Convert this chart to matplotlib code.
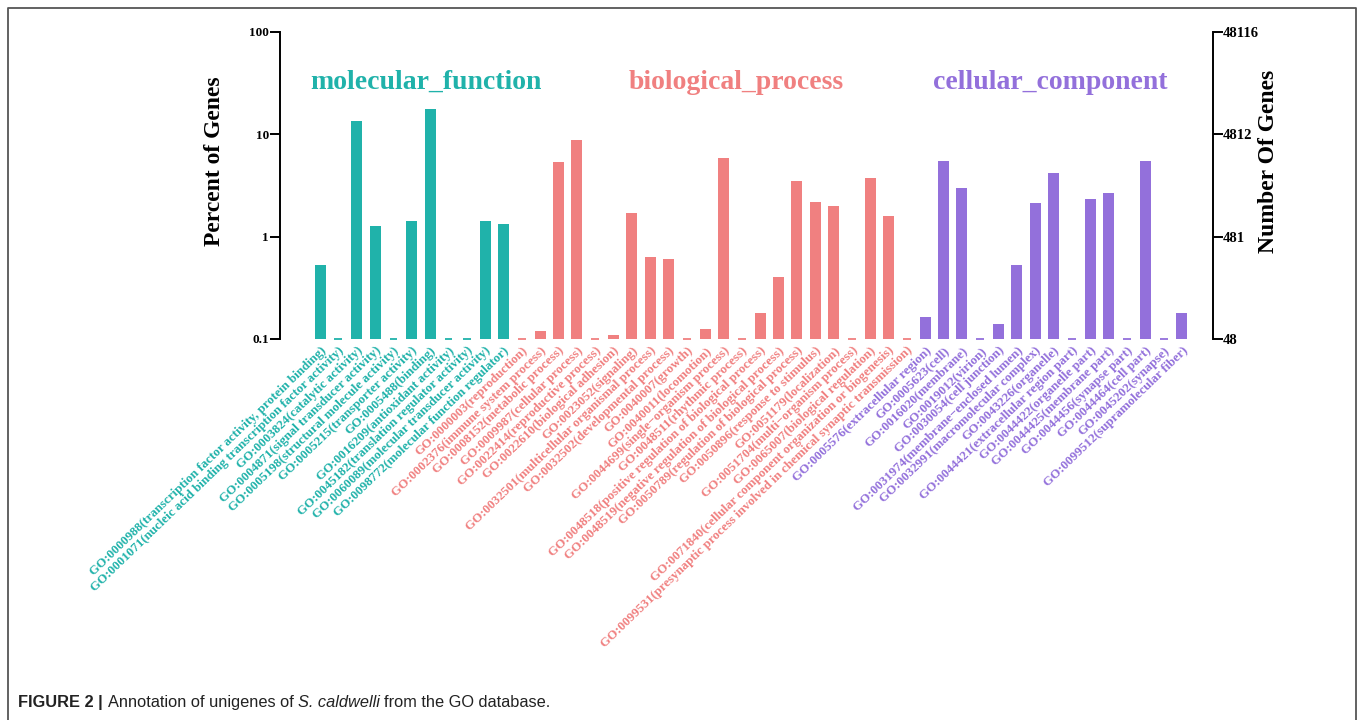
import matplotlib
matplotlib.use('Agg')
import matplotlib.pyplot as plt
from matplotlib.lines import Line2D
import numpy as np

TOTAL_GENES = 48116

MF_TERMS = [
    'GO:0000988(transcription factor activity, protein binding)',
    'GO:0001071(nucleic acid binding transcription factor activity)',
    'GO:0003824(catalytic activity)',
    'GO:0004871(signal transducer activity)',
    'GO:0005198(structural molecule activity)',
    'GO:0005215(transporter activity)',
    'GO:0005488(binding)',
    'GO:0016209(antioxidant activity)',
    'GO:0045182(translation regulator activity)',
    'GO:0060089(molecular transducer activity)',
    'GO:0098772(molecular function regulator)',
]
MF_PCT = [0.53, 0, 13.5, 1.27, 0, 1.42, 17.5, 0, 0, 1.42, 1.32]

BP_TERMS = [
    'GO:0000003(reproduction)',
    'GO:0002376(immune system process)',
    'GO:0008152(metabolic process)',
    'GO:0009987(cellular process)',
    'GO:0022414(reproductive process)',
    'GO:0022610(biological adhesion)',
    'GO:0023052(signaling)',
    'GO:0032501(multicellular organismal process)',
    'GO:0032502(developmental process)',
    'GO:0040007(growth)',
    'GO:0040011(locomotion)',
    'GO:0044699(single\u2212organism process)',
    'GO:0048511(rhythmic process)',
    'GO:0048518(positive regulation of biological process)',
    'GO:0048519(negative regulation of biological process)',
    'GO:0050789(regulation of biological process)',
    'GO:0050896(response to stimulus)',
    'GO:0051179(localization)',
    'GO:0051704(multi\u2212organism process)',
    'GO:0065007(biological regulation)',
    'GO:0071840(cellular component organization or biogenesis)',
    'GO:0099531(presynaptic process involved in chemical synaptic transmission)',
]
BP_PCT = [0, 0.12, 5.4, 8.8, 0, 0.11, 1.7, 0.63, 0.6, 0, 0.125, 5.9, 0,
          0.18, 0.4, 3.5, 2.2, 2.0, 0, 3.7, 1.6, 0]

CC_TERMS = [
    'GO:0005576(extracellular region)',
    'GO:0005623(cell)',
    'GO:0016020(membrane)',
    'GO:0019012(virion)',
    'GO:0030054(cell junction)',
    'GO:0031974(membrane\u2212enclosed lumen)',
    'GO:0032991(macromolecular complex)',
    'GO:0043226(organelle)',
    'GO:0044421(extracellular region part)',
    'GO:0044422(organelle part)',
    'GO:0044425(membrane part)',
    'GO:0044456(synapse part)',
    'GO:0044464(cell part)',
    'GO:0045202(synapse)',
    'GO:0099512(supramolecular fiber)',
]
CC_PCT = [0.165, 5.5, 3.0, 0, 0.14, 0.53, 2.15, 4.2, 0, 2.35, 2.65, 0,
          5.5, 0, 0.18]

GROUPS = ['molecular_function', 'biological_process', 'cellular_component']
COLORS = ['#20b2aa', '#f08080', '#9370db']

PCT_TICKS = [0.1, 1, 10, 100]

SERIF = ['Liberation Serif', 'DejaVu Serif']

terms = MF_TERMS + BP_TERMS + CC_TERMS
pct = np.array(MF_PCT + BP_PCT + CC_PCT, dtype=float)
sizes = [len(MF_TERMS), len(BP_TERMS), len(CC_TERMS)]
colors = np.repeat(COLORS, sizes)
x = np.arange(len(terms))

fig = plt.figure(figsize=(13.6, 7.2), dpi=100)
ax = fig.add_axes([0.2059, 0.5292, 0.6860, 0.4264])

base = PCT_TICKS[0]
bar_w = 0.6
has = pct > 0
ax.bar(x[has], pct[has] - base, bottom=base, width=bar_w, color=colors[has])
# categories with no genes get a flat dash on the baseline
ax.hlines(np.full((~has).sum(), base * 0.995), x[~has] - bar_w * 0.35,
          x[~has] + bar_w * 0.35, colors=colors[~has], linewidth=1.3,
          clip_on=False)

ax.set_yscale('log')
ax.set_ylim(PCT_TICKS[0], PCT_TICKS[-1])
ax.set_xlim(-2.18, len(terms) + 0.69)
ax.set_yticks(PCT_TICKS)
ax.set_yticklabels([f'{t:g}' for t in PCT_TICKS], family=SERIF,
                   fontweight='bold', fontsize=9.5)
ax.minorticks_off()
ax.tick_params(axis='y', direction='out', length=7, width=1.4, pad=1)
for s in ('top', 'right', 'bottom'):
    ax.spines[s].set_visible(False)
ax.spines['left'].set_linewidth(1.4)

ax.set_xticks(x)
ax.set_xticklabels(terms, rotation=44, ha='right', rotation_mode='anchor',
                   family=SERIF, fontweight='bold', fontsize=9.4)
for lbl, c in zip(ax.get_xticklabels(), colors):
    lbl.set_color(c)
ax.tick_params(axis='x', length=0, pad=4)

# right axis: same scale expressed in gene counts
ax2 = ax.twinx()
ax2.set_yscale('log')
ax2.set_ylim(TOTAL_GENES * PCT_TICKS[0] / 100, TOTAL_GENES * PCT_TICKS[-1] / 100)
gene_ticks = [TOTAL_GENES * t / 100 for t in PCT_TICKS]
ax2.set_yticks(gene_ticks)
ax2.set_yticklabels([str(round(g)) for g in gene_ticks], family=SERIF,
                    fontweight='bold', fontsize=10.5)
ax2.minorticks_off()
ax2.tick_params(axis='y', direction='out', length=7, width=1.4, pad=0)
for s in ('top', 'left', 'bottom'):
    ax2.spines[s].set_visible(False)
ax2.spines['right'].set_linewidth(1.4)

# group headings
title_x = [5.8, 22.7, 39.8]
for name, c, tx in zip(GROUPS, COLORS, title_x):
    ax.text(tx, 0.837, name, transform=ax.get_xaxis_transform(),
            ha='center', va='center', color=c, family=SERIF,
            fontweight='bold', fontsize=20)

fig.text(0.158, 0.776, 'Percent of Genes', rotation=90, ha='center',
         va='center', family=SERIF, fontweight='bold', fontsize=17)
fig.text(0.9325, 0.776, 'Number Of Genes', rotation=90, ha='center',
         va='center', family=SERIF, fontweight='bold', fontsize=17)

# frame around the figure panel, open at the bottom
frame = dict(color='#555555', linewidth=1.3, transform=fig.transFigure)
fig.add_artist(Line2D([0.006, 0.006, 0.997, 0.997], [0.0, 0.989, 0.989, 0.0],
                      **frame))

cap_font = ['Liberation Sans Narrow', 'Liberation Sans']
cap_size = 11.8
cap_y = 0.018
t1 = fig.text(0.013, cap_y, 'FIGURE 2 |', family=cap_font, fontweight='bold',
              fontsize=cap_size, va='baseline', color='#222222')
fig.canvas.draw()
r = fig.canvas.get_renderer()
bb = t1.get_window_extent(r)
x0 = bb.x1 / fig.bbox.width + 0.004
t2 = fig.text(x0, cap_y, 'Annotation of unigenes of ', family=cap_font,
              fontsize=cap_size, va='baseline', color='#222222')
bb = t2.get_window_extent(r)
x0 = bb.x1 / fig.bbox.width
t3 = fig.text(x0, cap_y, 'S. caldwelli', family=cap_font, style='italic',
              fontsize=cap_size, va='baseline', color='#222222')
bb = t3.get_window_extent(r)
x0 = bb.x1 / fig.bbox.width + 0.003
fig.text(x0, cap_y, 'from the GO database.', family=cap_font,
         fontsize=cap_size, va='baseline', color='#222222')

fig.savefig('out.png', dpi=100, facecolor='white')
